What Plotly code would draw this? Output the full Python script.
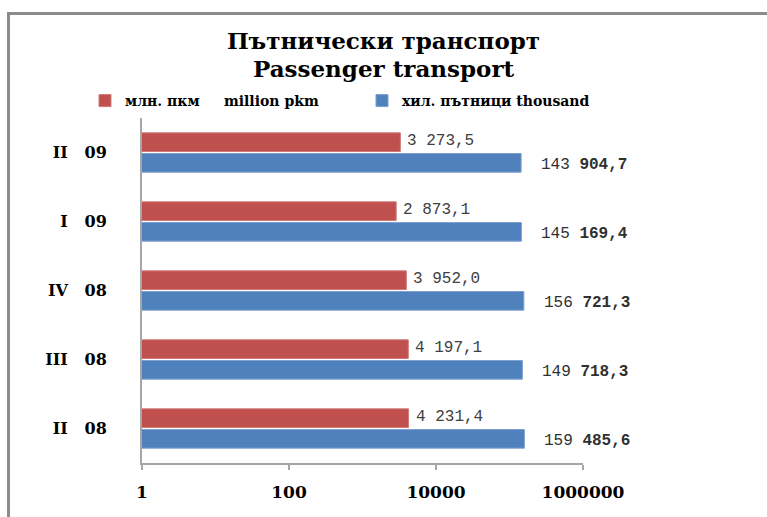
import math
import plotly.graph_objects as go

categories = ["II\u00a0\u00a0 08", "III\u00a0\u00a0 08", "IV\u00a0\u00a0 08", "I\u00a0\u00a0 09", "II\u00a0\u00a0 09"]
pkm_values = [4231.4, 4197.1, 3952.0, 2873.1, 3273.5]
pkm_labels = ["4 231,4", "4 197,1", "3 952,0", "2 873,1", "3 273,5"]
pass_values = [159485.6, 149718.3, 156721.3, 145169.4, 143904.7]
pass_labels = ["159 <b>485,6</b>", "149 <b>718,3</b>", "156 <b>721,3</b>", "145 <b>169,4</b>", "143 <b>904,7</b>"]
x_tickvals = [1, 100, 10000, 1000000]
x_ticktext = ["1", "100", "10000", "1000000"]
title_line1 = "Пътнически транспорт"
title_line2 = "Passenger transport"
pkm_name = "млн. пкм\u00a0\u00a0\u00a0\u00a0 million pkm"
pass_name = "хил. пътници thousand"

RED = "#C0504D"
BLUE = "#4F81BD"
SERIF = "DejaVu Serif, serif"
MONO = "Liberation Mono, monospace"

W, H = 767, 517
L, R, T, B = 142, 184, 118, 54
PW, PH = W - L - R, H - T - B

fig = go.Figure()
fig.add_trace(go.Bar(
    y=categories, x=pass_values, orientation="h", name=pass_name, legend="legend2",
    marker=dict(color=BLUE, line=dict(color="#7da0cf", width=1)),
))
fig.add_trace(go.Bar(
    y=categories, x=pkm_values, orientation="h", name=pkm_name, legend="legend",
    marker=dict(color=RED, line=dict(color="#d07a78", width=1)),
))

annotations = []
for cat, v, t in zip(categories, pkm_values, pkm_labels):
    annotations.append(dict(x=math.log10(v), y=cat, text=t, showarrow=False, xanchor="left",
                            xshift=5, yshift=12, font=dict(family=MONO, size=16, color="#404040")))
for cat, v, t in zip(categories, pass_values, pass_labels):
    annotations.append(dict(x=math.log10(v), y=cat, text=t, showarrow=False, xanchor="left",
                            xshift=18, yshift=-12, font=dict(family=MONO, size=16, color="#303030")))
annotations.append(dict(xref="paper", yref="paper", x=(W / 2 - L) / PW, y=(H - B - 68) / PH,
                        text="<b>" + title_line2 + "</b>", showarrow=False,
                        xanchor="center", yanchor="middle",
                        font=dict(family=SERIF, size=23, color="black")))

legend_common = dict(orientation="h", xanchor="left", xref="container", yref="container",
                     y=1 - 101 / H, yanchor="middle", itemwidth=30,
                     font=dict(family=SERIF, size=14, color="black", weight="bold"),
                     bgcolor="rgba(0,0,0,0)")

fig.update_layout(
    width=W, height=H,
    margin=dict(l=L, r=R, t=T, b=B),
    paper_bgcolor="white", plot_bgcolor="white",
    barmode="group", bargap=0.4, bargroupgap=0.1,
    title=dict(text="<b>" + title_line1 + "</b>",
               x=0.5, xanchor="center", xref="container", yref="container",
               y=1 - 41 / H, yanchor="middle",
               font=dict(family=SERIF, size=23, color="black")),
    legend=dict(legend_common, x=85 / W),
    legend2=dict(legend_common, x=362 / W),
    xaxis=dict(type="log", range=[0, 6], tickvals=x_tickvals, ticktext=x_ticktext,
               showgrid=False, zeroline=False, showline=True, linecolor="#a6a6a6", linewidth=2,
               ticks="outside", ticklen=5, tickwidth=2, tickcolor="#a6a6a6",
               ticklabelstandoff=8, automargin=False,
               tickfont=dict(family=SERIF, size=17, color="black", weight="bold")),
    yaxis=dict(showgrid=False, zeroline=False, showline=True, linecolor="#a6a6a6", linewidth=2,
               ticks="", ticklabelstandoff=30, automargin=False,
               tickfont=dict(family=SERIF, size=16, color="black", weight="bold")),
    annotations=annotations,
    shapes=[dict(type="rect", xref="paper", yref="paper", x0=(8.5 - L) / PW, x1=2,
                 y0=-1, y1=(H - B - 13.5) / PH,
                 line=dict(color="#8c8c8c", width=3), fillcolor="rgba(0,0,0,0)", layer="below")],
    showlegend=True,
)

fig.write_html("out.html", config={"displayModeBar": False},
               post_script="document.body.style.margin='0';document.body.style.overflow='hidden';")
